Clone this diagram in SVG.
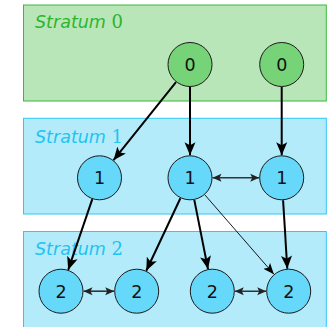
<svg xmlns="http://www.w3.org/2000/svg" width="331" height="327" viewBox="0 0 331 327">
<style>
.s0{fill:#b9e6b9;stroke:#3cb83c;stroke-width:1}
.s1{fill:#b3ebfb;stroke:#2ec8f0;stroke-width:1}
.lab{font-family:"DejaVu Sans",sans-serif;font-style:italic;font-size:17.5px}
.num{font-family:"DejaVu Serif",serif;font-style:normal;font-size:18px}
.g{fill:#2db52d}
.c{fill:#1ec3f0}
.n0{fill:#77d377;stroke:#1a1a1a;stroke-width:1}
.n1{fill:#66d9fa;stroke:#1a1a1a;stroke-width:1}
.nt{font-family:"DejaVu Sans",sans-serif;font-size:17.5px;text-anchor:middle;fill:#111}
.e{stroke:#000;stroke-width:2;fill:none;marker-end:url(#ah)}
.et{stroke:#000;stroke-width:0.9;fill:none;marker-end:url(#ahs)}
.b{stroke:#333;stroke-width:1.6;fill:none;marker-start:url(#bh);marker-end:url(#bh)}
</style>
<defs>
<marker id="ah" markerUnits="userSpaceOnUse" markerWidth="14" markerHeight="12" refX="13" refY="5.5" orient="auto" viewBox="0 0 14 11">
<path d="M0,0 L13,5.5 L0,11 L3,5.5 z" fill="#000"/>
</marker>
<marker id="ahs" markerUnits="userSpaceOnUse" markerWidth="12" markerHeight="10" refX="11" refY="4.5" orient="auto" viewBox="0 0 12 9">
<path d="M0,0 L11,4.5 L0,9 L2.5,4.5 z" fill="#000"/>
</marker>
<marker id="bh" markerUnits="userSpaceOnUse" markerWidth="10" markerHeight="9" refX="9" refY="4" orient="auto-start-reverse" viewBox="0 0 10 8">
<path d="M0,0 L9,4 L0,8 L2,4 z" fill="#222"/>
</marker>
</defs>
<g id="stratum0">
<rect class="s0" x="23.5" y="5" width="302.8" height="96"/>
<text class="lab g" x="35" y="28">Stratum <tspan class="num">0</tspan></text>
</g>
<g id="stratum1">
<rect class="s1" x="23.5" y="118.3" width="302.8" height="95.7"/>
<text class="lab c" x="35" y="142.5">Stratum <tspan class="num">1</tspan></text>
</g>
<g id="stratum2">
<rect class="s1" x="23.5" y="231.5" width="302.8" height="96"/>
<text class="lab c" x="35" y="254.5">Stratum <tspan class="num">2</tspan></text>
</g>
<g id="connectors">
<line class="e" x1="176" y1="82.1" x2="113.5" y2="160.2"/>
<line class="e" x1="190" y1="87" x2="190" y2="155.3"/>
<line class="e" x1="281.7" y1="87" x2="281.7" y2="155.3"/>
<line class="e" x1="92.3" y1="199.1" x2="68.2" y2="269.9"/>
<line class="e" x1="180.4" y1="198.2" x2="146.3" y2="270.8"/>
<line class="e" x1="194.3" y1="199.9" x2="208" y2="269.1"/>
<line class="et" x1="204.8" y1="194.8" x2="273.9" y2="274.2"/>
<line class="e" x1="283.1" y1="200.3" x2="287.3" y2="268.7"/>
<line class="b" x1="212.5" y1="177.8" x2="259.2" y2="177.8"/>
<line class="b" x1="83.5" y1="291.2" x2="114.2" y2="291.2"/>
<line class="b" x1="234.8" y1="291.2" x2="266.2" y2="291.2"/>
</g>
<g id="a0"><circle class="n0" cx="190" cy="64.5" r="22"/><text class="nt" x="190" y="70.8">0</text></g>
<g id="b0"><circle class="n0" cx="281.7" cy="64.5" r="22"/><text class="nt" x="281.7" y="70.8">0</text></g>
<g id="a1"><circle class="n1" cx="99.5" cy="177.8" r="22"/><text class="nt" x="99.5" y="184.1">1</text></g>
<g id="b1"><circle class="n1" cx="190" cy="177.8" r="22"/><text class="nt" x="190" y="184.1">1</text></g>
<g id="c1"><circle class="n1" cx="281.7" cy="177.8" r="22"/><text class="nt" x="281.7" y="184.1">1</text></g>
<g id="a2"><circle class="n1" cx="61" cy="291.2" r="22"/><text class="nt" x="61" y="297.5">2</text></g>
<g id="b2"><circle class="n1" cx="136.7" cy="291.2" r="22"/><text class="nt" x="136.7" y="297.5">2</text></g>
<g id="c2"><circle class="n1" cx="212.3" cy="291.2" r="22"/><text class="nt" x="212.3" y="297.5">2</text></g>
<g id="d2"><circle class="n1" cx="288.7" cy="291.2" r="22"/><text class="nt" x="288.7" y="297.5">2</text></g>
</svg>
